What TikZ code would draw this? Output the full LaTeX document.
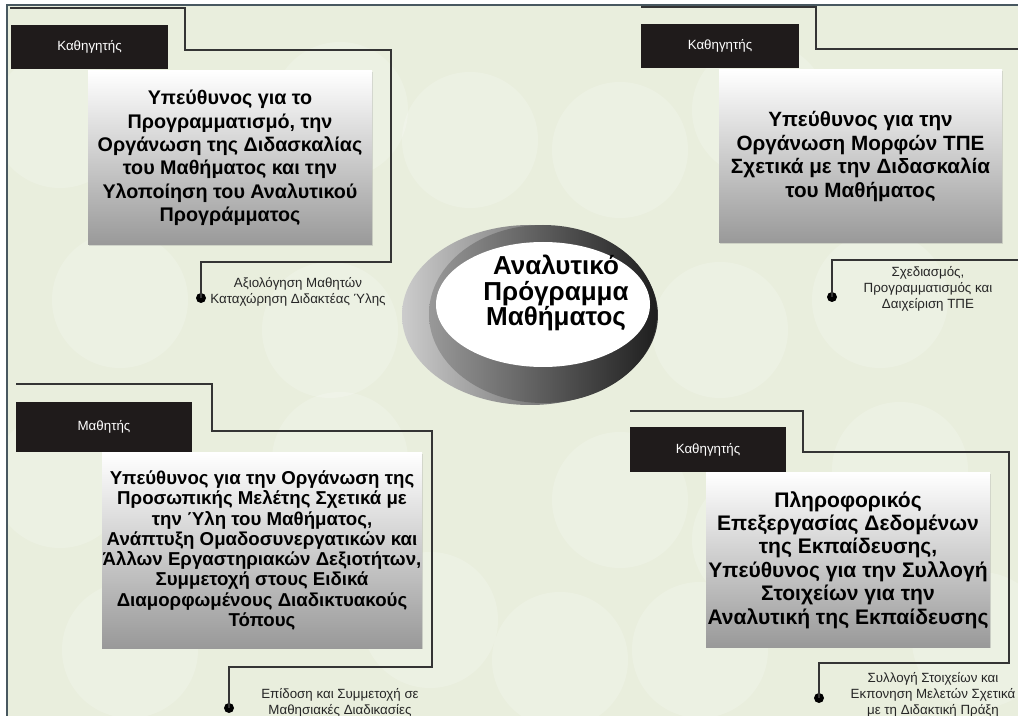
\documentclass[tikz,border=0pt]{standalone}
\usepackage{fontspec}
\setmainfont{Liberation Sans}
\usepackage{xcolor}
\usetikzlibrary{calc,
	positioning,
	shadows}

\definecolor{bgGreen}{RGB}{233,238,221}
\definecolor{frameBlue}{RGB}{72,88,96}
\definecolor{tagBlack}{RGB}{31,27,27}
\definecolor{wireGray}{RGB}{52,52,52}

\tikzset{
	tagbox/.style={fill=tagBlack, text=white, inner sep=0pt, font=\fontsize{10}{12}\selectfont},
	infobox/.style={top color=white, bottom color=black!40, align=center, inner sep=0pt,
		font=\fontsize{14.8}{17.6}\selectfont\bfseries,
		drop shadow={shadow xshift=0.8pt, shadow yshift=-0.8pt, opacity=0.25}},
	notetext/.style={align=center, text=black!85, font=\fontsize{10}{12}\selectfont},
	wire/.style={wireGray, line width=0.9pt},
	enddot/.style={circle, fill=black, inner sep=0pt, minimum size=7.5pt},
}

\begin{document}
\begin{tikzpicture}[x=0.75pt, y=-0.75pt]
	\useasboundingbox (0,0) rectangle (1018,716);
	\clip (0,0) rectangle (1018,716);
	\fill[bgGreen] (7,5) rectangle (1018,716);
	\foreach \cx/\cy in {60/120, 200/170, 340/110, 470/140, 620/150, 760/110, 900/160,
		120/300, 330/330, 720/330, 880/300,
		60/480, 200/520, 340/460, 620/500, 760/540, 900/470,
		130/650, 430/620, 560/660, 700/650, 980/640}
		\fill[white, opacity=0.18] (\cx,\cy) circle (68);
	\draw[frameBlue, line width=1.1pt] (7,716) -- (7,5) -- (1018,5);

	\coordinate (tlA) at (10,8);
	\coordinate (tlB) at (185,50);
	\coordinate (tlC) at (391,262);
	\node[enddot] (tlDot) at (201,298) {};
	\draw[wire] (tlA) -| (tlB) -| (tlC) -| (tlDot.center);
	\node[tagbox, minimum width=117.75pt, minimum height=33pt] (tlTag) at (89.5,47) {Καθηγητής};
	\node[infobox, minimum width=213pt, minimum height=130.5pt] (tlBox) at (230,158)
		{Υπεύθυνος για το\\Προγραμματισμό, την\\Οργάνωση της Διδασκαλίας\\του Μαθήματος και την\\Υλοποίηση του Αναλυτικού\\Προγράμματος};
	\node[notetext] (tlNote) at (298,292) {Αξιολόγηση Μαθητών\\Καταχώρηση Διδακτέας Ύλης};

	\coordinate (trA) at (641,7);
	\coordinate (trB) at (816,49);
	\coordinate (trC) at (1030,260);
	\node[enddot] (trDot) at (832,297) {};
	\draw[wire] (trA) -| (trB) -| (trC) -| (trDot.center);
	\node[tagbox, minimum width=118.5pt, minimum height=33pt] (trTag) at (720,46) {Καθηγητής};
	\node[infobox, minimum width=212.25pt, minimum height=129.75pt, font=\fontsize{15.5}{17.6}\selectfont\bfseries] (trBox) at (860.5,156.5)
		{Υπεύθυνος για την\\Οργάνωση Μορφών ΤΠΕ\\Σχετικά με την Διδασκαλία\\του Μαθήματος};
	\node[notetext] (trNote) at (928,289) {Σχεδιασμός,\\Προγραμματισμός και\\Δαιχείριση ΤΠΕ};

	\coordinate (blA) at (16,384);
	\coordinate (blB) at (212,431);
	\coordinate (blC) at (432,667);
	\node[enddot] (blDot) at (229,708) {};
	\draw[wire] (blA) -| (blB) -| (blC) -| (blDot.center);
	\node[tagbox, minimum width=132pt, minimum height=37.5pt] (blTag) at (104,427) {Μαθητής};
	\node[infobox, minimum width=240pt, minimum height=146.25pt, font=\fontsize{14}{15.2}\selectfont\bfseries] (blBox) at (262,550.5)
		{Υπεύθυνος για την Οργάνωση της\\Προσωπικής Μελέτης Σχετικά με\\την Ύλη του Μαθήματος,\\Ανάπτυξη Ομαδοσυνεργατικών και\\Άλλων Εργαστηριακών Δεξιοτήτων,\\Συμμετοχή στους Ειδικά\\Διαμορφωμένους Διαδικτυακούς\\Τόπους};
	\node[notetext] (blNote) at (340,702.5) {Επίδοση και Συμμετοχή σε\\Μαθησιακές Διαδικασίες};

	\coordinate (brA) at (630,411);
	\coordinate (brB) at (803,452);
	\coordinate (brC) at (1009,663);
	\node[enddot] (brDot) at (819,698) {};
	\draw[wire] (brA) -| (brB) -| (brC) -| (brDot.center);
	\node[tagbox, minimum width=117pt, minimum height=33.75pt] (brTag) at (708,449.5) {Καθηγητής};
	\node[infobox, minimum width=213pt, minimum height=130.5pt, font=\fontsize{15.8}{17.6}\selectfont\bfseries] (brBox) at (848,560)
		{Πληροφορικός\\Επεξεργασίας Δεδομένων\\της Εκπαίδευσης,\\Υπεύθυνος για την Συλλογή\\Στοιχείων για την\\Αναλυτική της Εκπαίδευσης};
	\node[notetext] (brNote) at (933,695) {Συλλογή Στοιχείων και\\Εκπονηση Μελετών Σχετικά\\με τη Διδακτική Πράξη};

	\shade[left color=black!20, right color=black!80] (530,315) ellipse [x radius=128, y radius=90];
	\shade[left color=black!40, right color=black!88] (543,314) ellipse [x radius=114, y radius=89];
	\fill[white] (543,304.5) ellipse [x radius=107, y radius=62.5];
	\node[align=center, font=\fontsize{19.5}{18.8}\selectfont\bfseries] (core) at (556,293)
		{Αναλυτικό\\Πρόγραμμα\\Μαθήματος};
\end{tikzpicture}
\end{document}
